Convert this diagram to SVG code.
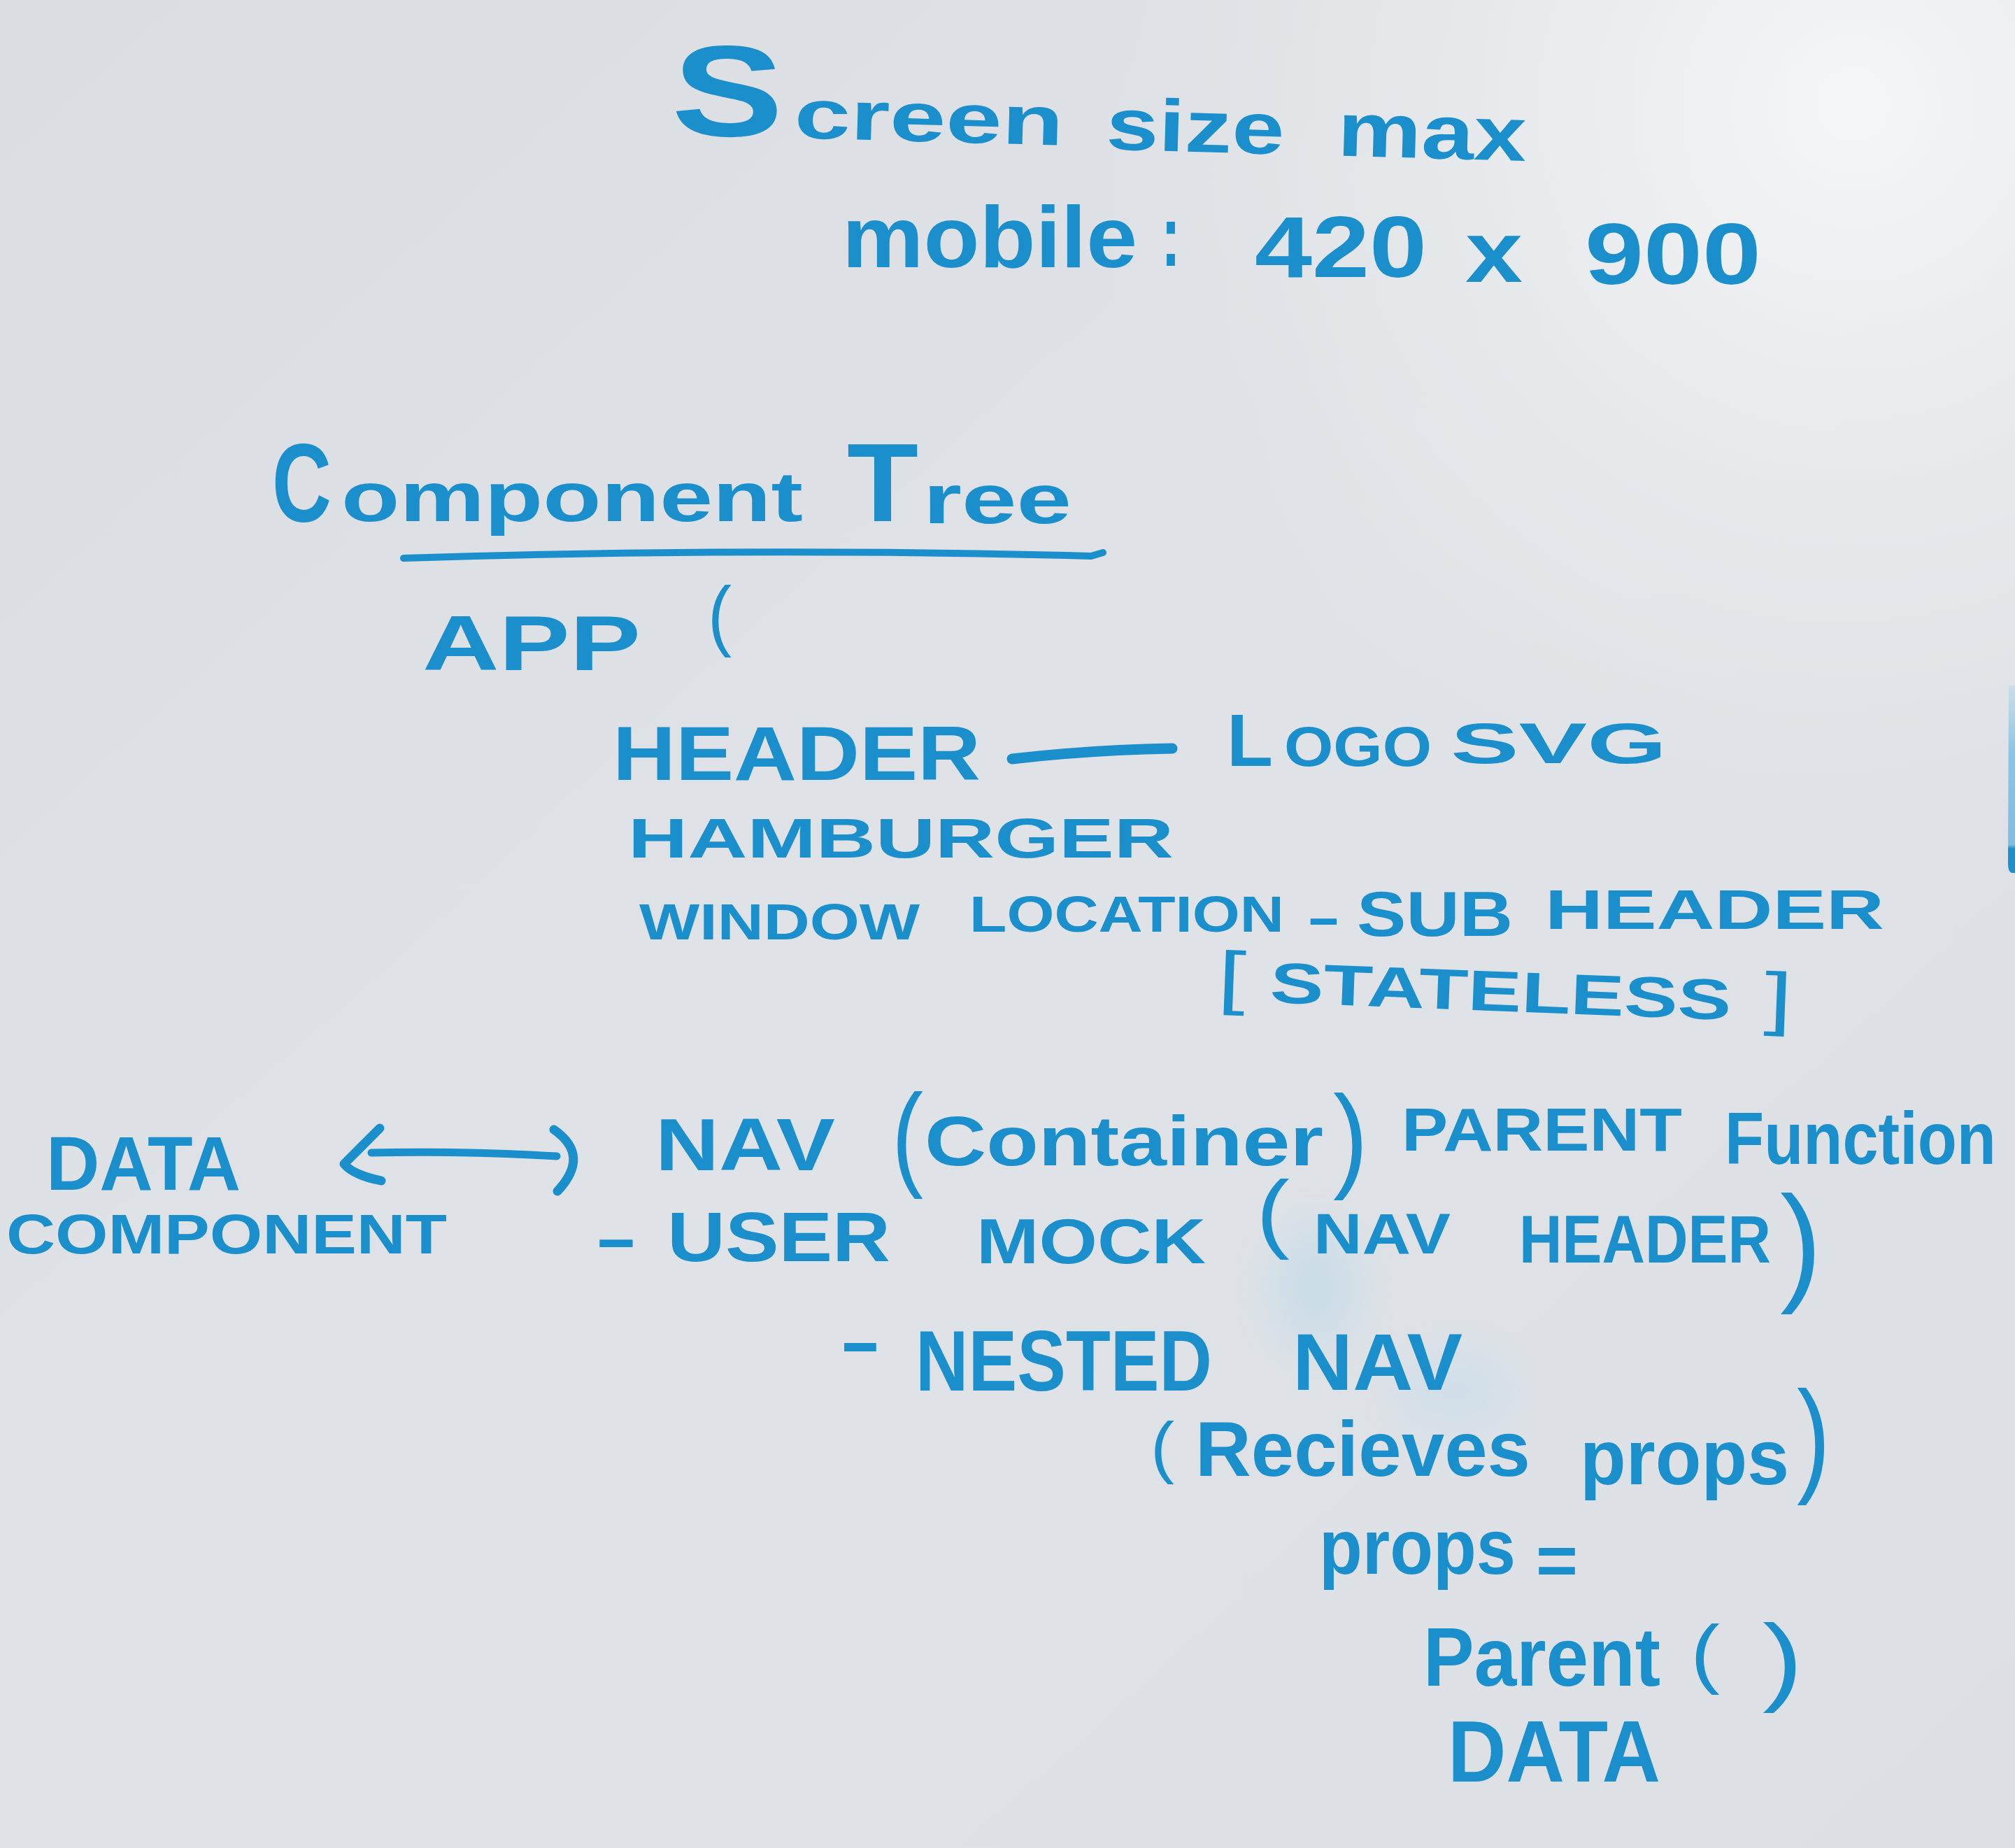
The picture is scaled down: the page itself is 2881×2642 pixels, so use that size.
<svg xmlns="http://www.w3.org/2000/svg" width="2881" height="2642" viewBox="0 0 2881 2642">
  <defs>
    <style>
      .ink { fill: #1b8fcc; font-family: "Liberation Sans", "DejaVu Sans", Arial, sans-serif; font-weight: bold; }
      .paren { font-weight: normal; }
      .pen { fill: none; stroke: #1b8fcc; stroke-linecap: round; stroke-linejoin: round; }
    </style>
    <linearGradient id="board" x1="0" y1="0" x2="1" y2="1">
      <stop offset="0" stop-color="#dadde1"/>
      <stop offset="0.5" stop-color="#dfe3e7"/>
      <stop offset="1" stop-color="#dce0e5"/>
    </linearGradient>
    <radialGradient id="glare" cx="2650" cy="150" r="1100" gradientUnits="userSpaceOnUse">
      <stop offset="0" stop-color="#f6f7f8" stop-opacity="0.95"/>
      <stop offset="0.45" stop-color="#eef0f2" stop-opacity="0.6"/>
      <stop offset="1" stop-color="#e6e9ec" stop-opacity="0"/>
    </radialGradient>
    <linearGradient id="edge" x1="0" y1="0" x2="0" y2="1">
      <stop offset="0" stop-color="#9ccde9" stop-opacity="0.3"/>
      <stop offset="0.35" stop-color="#8cc5e6"/>
      <stop offset="0.85" stop-color="#7fbde2"/>
      <stop offset="0.87" stop-color="#1d8fcd"/>
      <stop offset="1" stop-color="#1d8fcd"/>
    </linearGradient>
    <filter id="soft" x="-50%" y="-50%" width="200%" height="200%">
      <feGaussianBlur stdDeviation="30"/>
    </filter>
  </defs>

  <!-- whiteboard surface -->
  <rect width="2881" height="2642" fill="url(#board)"/>
  <rect width="2881" height="2642" fill="url(#glare)"/>
  <g filter="url(#soft)" opacity="0.35">
    <ellipse cx="1880" cy="1840" rx="60" ry="90" fill="#a9d3ec"/>
    <ellipse cx="2080" cy="1990" rx="80" ry="50" fill="#b5d8ee"/>
  </g>
  <!-- marker stroke at the right edge -->
  <path d="M2872,980 L2881,980 L2881,1248 L2876,1248 Q2871,1246 2871,1235 Z" fill="url(#edge)"/>

  <g id="title">
    <text class="ink" transform="rotate(1.6 959 192)">
      <tspan x="959" y="192" font-size="185" textLength="160" lengthAdjust="spacingAndGlyphs">S</tspan><tspan x="1135" y="192" font-size="100" textLength="385" lengthAdjust="spacingAndGlyphs">creen</tspan>
      <tspan x="1581" y="196" font-size="105" textLength="255" lengthAdjust="spacingAndGlyphs">size</tspan>
      <tspan x="1912" y="196" font-size="110" textLength="270" lengthAdjust="spacingAndGlyphs">max</tspan>
    </text>
  </g>

  <g id="mobile">
    <text class="ink" font-size="125">
      <tspan x="1204" y="382" textLength="422" lengthAdjust="spacingAndGlyphs">mobile</tspan>
      <tspan x="1660" y="380" textLength="28" lengthAdjust="spacingAndGlyphs">:</tspan>
      <tspan x="1794" y="396" textLength="246" lengthAdjust="spacingAndGlyphs">420</tspan>
      <tspan x="2095" y="403" textLength="82" lengthAdjust="spacingAndGlyphs">x</tspan>
      <tspan x="2266" y="406" textLength="252" lengthAdjust="spacingAndGlyphs">900</tspan>
    </text>
  </g>

  <g id="component-tree">
    <text class="ink">
      <tspan x="389" y="745" font-size="160" textLength="85" lengthAdjust="spacingAndGlyphs">C</tspan><tspan x="488" y="745" font-size="100" textLength="660" lengthAdjust="spacingAndGlyphs">omponent</tspan>
      <tspan x="1211" y="745" font-size="160" textLength="102" lengthAdjust="spacingAndGlyphs">T</tspan><tspan x="1320" y="748" font-size="100" textLength="212" lengthAdjust="spacingAndGlyphs">ree</tspan>
    </text>
    <path class="pen" stroke-width="10" d="M577,798 Q1080,782 1560,795 L1577,790"/>
  </g>

  <g id="app">
    <text class="ink">
      <tspan x="604" y="958" font-size="112" textLength="312" lengthAdjust="spacingAndGlyphs">APP</tspan>
      <tspan class="paren" x="1012" y="917" font-size="112" textLength="34" lengthAdjust="spacingAndGlyphs">(</tspan>
    </text>
  </g>

  <g id="header">
    <text class="ink" x="876" y="1115" font-size="110" textLength="526" lengthAdjust="spacingAndGlyphs">HEADER</text>
  </g>

  <g id="logo-svg">
    <text class="ink">
      <tspan x="1754" y="1095" font-size="105" textLength="66" lengthAdjust="spacingAndGlyphs">L</tspan><tspan x="1836" y="1095" font-size="80" textLength="211" lengthAdjust="spacingAndGlyphs">OGO</tspan>
      <tspan x="2074" y="1091" font-size="82" textLength="309" lengthAdjust="spacingAndGlyphs">SVG</tspan>
    </text>
  </g>

  <g id="hamburger">
    <text class="ink" x="898" y="1226" font-size="80" textLength="780" lengthAdjust="spacingAndGlyphs">HAMBURGER</text>
  </g>

  <g id="window-location">
    <text class="ink" font-size="72">
      <tspan x="914" y="1343" textLength="401" lengthAdjust="spacingAndGlyphs">WINDOW</tspan>
      <tspan x="1386" y="1332" textLength="450" lengthAdjust="spacingAndGlyphs">LOCATION</tspan>
    </text>
  </g>

  <g id="sub-header">
    <text class="ink">
      <tspan x="1868" y="1336" font-size="72" textLength="49" lengthAdjust="spacingAndGlyphs">-</tspan>
      <tspan x="1940" y="1338" font-size="90" textLength="223" lengthAdjust="spacingAndGlyphs">SUB</tspan>
      <tspan x="2209" y="1328" font-size="80" textLength="485" lengthAdjust="spacingAndGlyphs">HEADER</tspan>
    </text>
    <text class="ink" transform="rotate(2.2 1740 1430)">
      <tspan class="paren" x="1740" y="1430" font-size="100" textLength="40" lengthAdjust="spacingAndGlyphs">[</tspan><tspan x="1815" y="1430" font-size="82" textLength="660" lengthAdjust="spacingAndGlyphs">STATELESS</tspan><tspan class="paren" x="2522" y="1430" font-size="100" textLength="40" lengthAdjust="spacingAndGlyphs">]</tspan>
    </text>
  </g>

  <g id="data-component">
    <text class="ink" x="66" y="1701" font-size="110" textLength="278" lengthAdjust="spacingAndGlyphs">DATA</text>
    <text class="ink" x="9" y="1792" font-size="80" textLength="630" lengthAdjust="spacingAndGlyphs">COMPONENT</text>
  </g>

  <g id="nav">
    <text class="ink">
      <tspan x="937" y="1673" font-size="105" textLength="257" lengthAdjust="spacingAndGlyphs">NAV</tspan>
      <tspan class="paren" x="1275" y="1680" font-size="165" textLength="45" lengthAdjust="spacingAndGlyphs">(</tspan><tspan x="1322" y="1666" font-size="100" textLength="570" lengthAdjust="spacingAndGlyphs">Container</tspan><tspan class="paren" x="1906" y="1682" font-size="165" textLength="50" lengthAdjust="spacingAndGlyphs">)</tspan>
      <tspan x="2004" y="1645" font-size="88" textLength="401" lengthAdjust="spacingAndGlyphs">PARENT</tspan>
      <tspan x="2466" y="1664" font-size="106" textLength="388" lengthAdjust="spacingAndGlyphs">Function</tspan>
    </text>
  </g>

  <g id="user-mock">
    <text class="ink">
      <tspan x="850" y="1801" font-size="90" textLength="62" lengthAdjust="spacingAndGlyphs">-</tspan><tspan x="954" y="1803" font-size="100" textLength="319" lengthAdjust="spacingAndGlyphs">USER</tspan>
      <tspan x="1396" y="1806" font-size="90" textLength="328" lengthAdjust="spacingAndGlyphs">MOCK</tspan>
      <tspan class="paren" x="1796" y="1775" font-size="125" textLength="48" lengthAdjust="spacingAndGlyphs">(</tspan><tspan x="1878" y="1792" font-size="82" textLength="196" lengthAdjust="spacingAndGlyphs">NAV</tspan>
      <tspan x="2172" y="1805" font-size="96" textLength="360" lengthAdjust="spacingAndGlyphs">HEADER</tspan><tspan class="paren" x="2545" y="1840" font-size="185" textLength="60" lengthAdjust="spacingAndGlyphs">)</tspan>
    </text>
  </g>

  <g id="nested-nav">
    <text class="ink">
      <tspan x="1200" y="1952" font-size="100" textLength="60" lengthAdjust="spacingAndGlyphs">-</tspan><tspan x="1309" y="1988" font-size="122" textLength="424" lengthAdjust="spacingAndGlyphs">NESTED</tspan>
      <tspan x="1848" y="1987" font-size="115" textLength="243" lengthAdjust="spacingAndGlyphs">NAV</tspan>
    </text>
    <text class="ink">
      <tspan class="paren" x="1645" y="2102" font-size="98" textLength="34" lengthAdjust="spacingAndGlyphs">(</tspan><tspan x="1709" y="2110" font-size="112" textLength="479" lengthAdjust="spacingAndGlyphs">Recieves</tspan>
      <tspan x="2259" y="2122" font-size="112" textLength="299" lengthAdjust="spacingAndGlyphs">props</tspan><tspan class="paren" x="2569" y="2115" font-size="180" textLength="48" lengthAdjust="spacingAndGlyphs">)</tspan>
    </text>
  </g>

  <g id="props">
    <text class="ink">
      <tspan x="1886" y="2250" font-size="112" textLength="281" lengthAdjust="spacingAndGlyphs">props</tspan>
      <tspan x="2196" y="2265" font-size="100" textLength="60" lengthAdjust="spacingAndGlyphs">=</tspan>
    </text>
    <text class="ink">
      <tspan x="2035" y="2410" font-size="118" textLength="339" lengthAdjust="spacingAndGlyphs">Parent</tspan>
      <tspan class="paren" x="2417" y="2400" font-size="110" textLength="42" lengthAdjust="spacingAndGlyphs">(</tspan>
      <tspan class="paren" x="2520" y="2420" font-size="140" textLength="58" lengthAdjust="spacingAndGlyphs">)</tspan>
    </text>
    <text class="ink" x="2070" y="2547" font-size="125" textLength="304" lengthAdjust="spacingAndGlyphs">DATA</text>
  </g>

  <g id="connectors">
    <!-- HEADER to LOGO SVG -->
    <path class="pen" stroke-width="15" d="M1447,1085 Q1560,1072 1676,1070"/>
    <!-- two-way link between DATA COMPONENT and NAV -->
    <path class="pen" stroke-width="11" d="M531,1648 Q660,1645 796,1653"/>
    <path class="pen" stroke-width="13" d="M543,1613 L492,1664 Q505,1680 545,1688"/>
    <path class="pen" stroke-width="13" d="M792,1615 Q845,1652 797,1703"/>
  </g>
</svg>
